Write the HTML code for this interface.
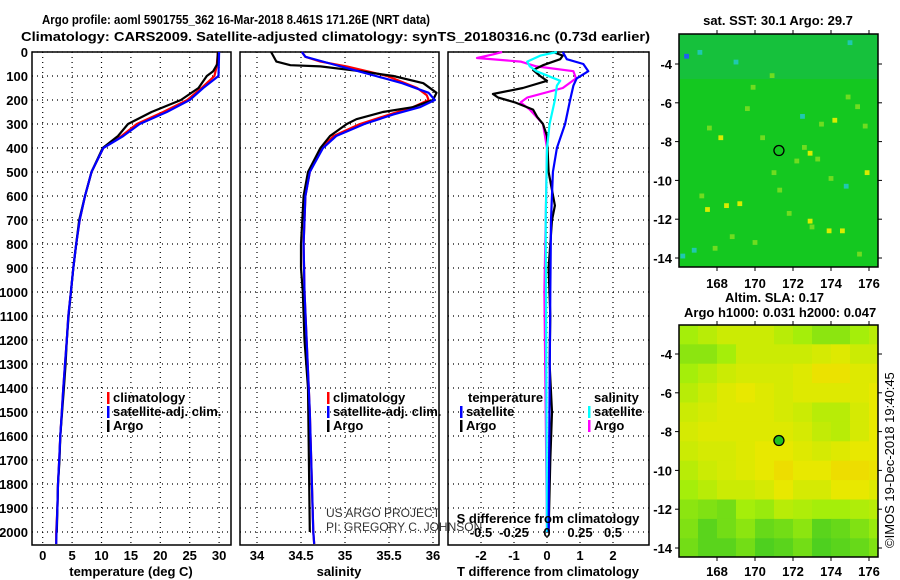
<!DOCTYPE html>
<html><head><meta charset="utf-8"><style>
html,body{margin:0;padding:0;background:#fff;}
svg{display:block;font-family:"Liberation Sans",sans-serif;}
.b{font-weight:bold;font-size:13px;}
</style></head><body>
<svg id="chart" width="900" height="580" viewBox="0 0 900 580" xmlns="http://www.w3.org/2000/svg">
<text x="42" y="24" class="b" font-size="15" textLength="388" lengthAdjust="spacingAndGlyphs">Argo profile: aoml 5901755_362 16-Mar-2018 8.461S 171.26E (NRT data)</text>
<text x="21" y="41" class="b" font-size="15" textLength="629" lengthAdjust="spacingAndGlyphs">Climatology: CARS2009. Satellite-adjusted climatology: synTS_20180316.nc (0.73d earlier)</text>
<g id="g"></g>
</svg>
<script>
// ---------- data ----------
const pTicks=[0,100,200,300,400,500,600,700,800,900,1000,1100,1200,1300,1400,1500,1600,1700,1800,1900,2000];
const tTicks=[0,5,10,15,20,25,30];
const sTicks=[34,34.5,35,35.5,36];
const dTicks=[-2,-1,0,1,2];
const sdTickLabels=["-0.5","-0.25","0","0.25","0.5"];
const sdTickVals=[-0.5,-0.25,0,0.25,0.5];

const tClimP=[0,60,100,150,200,250,300,350,400,500,600,700,800,900,1000,1100,1200,1300,1400,1500,1600,1700,1800,1900,2000,2050];
const tClimV=[29.8,29.6,29.2,27,24.6,20.5,16,13.4,10.3,8.3,7.2,6.3,5.7,5.2,4.8,4.35,4.1,3.8,3.5,3.25,3.0,2.8,2.6,2.5,2.3,2.3];
const tSatP=[0,100,150,200,250,300,350,400,500,600,700,800,900,1000,1100,1200,1300,1400,1500,1600,1700,1800,1900,2000,2050];
const tSatV=[30.0,29.9,27.3,25,21.1,16.5,13.7,10.3,8.3,7.2,6.3,5.7,5.2,4.8,4.35,4.1,3.8,3.5,3.25,3.0,2.8,2.6,2.5,2.35,2.3];
const tArgoP=[0,50,80,100,150,200,250,300,350,400,500,600,700,800,900,1000,1100,1200,1300,1400,1500,1600,1700,1800,1900,2000];
const tArgoV=[29.8,29.7,29.0,27.9,26.5,23.5,18.5,14.5,12.8,10.2,8.3,7.2,6.2,5.7,5.2,4.8,4.4,4.1,3.9,3.6,3.3,3.0,2.85,2.6,2.5,2.4];

const sClimP=[0,20,40,60,80,100,150,180,200,230,260,300,350,400,500,600,800,1000,1500,2000,2050];
const sClimV=[34.51,34.55,34.72,35.02,35.25,35.48,35.82,35.93,35.95,35.77,35.51,35.17,34.87,34.73,34.6,34.55,34.53,34.54,34.6,34.64,34.65];
const sSatP=[0,20,50,80,100,130,170,200,230,260,300,350,400,500,600,800,1000,1500,2000,2050];
const sSatV=[34.51,34.55,34.85,35.15,35.35,35.65,35.95,36.02,35.85,35.55,35.22,34.9,34.75,34.6,34.55,34.53,34.54,34.6,34.64,34.65];
const sArgoP=[0,40,55,60,80,100,130,170,200,230,250,280,300,350,400,500,600,800,900,1000,1200,1400,2000];
const sArgoV=[34.16,34.22,34.38,34.72,35.17,35.55,35.89,36.04,36.0,35.77,35.43,35.13,35.02,34.83,34.72,34.58,34.53,34.5,34.5,34.52,34.54,34.58,34.6];

const dtArgoP=[0,15,30,55,75,100,120,150,175,190,210,240,270,300,350,500,640,700,900,1100,1300,1500,1700,2000];
const dtArgoV=[0.18,0.48,0.4,-0.12,-0.42,-0.21,0,-0.73,-1.64,-1.48,-0.97,-0.42,-0.3,-0.12,0,0.05,0.24,0.15,0.05,0.1,0.08,0.15,0.1,0.05];
const dtSatP=[0,30,50,80,110,140,200,300,400,500,700,1000,2000];
const dtSatV=[0.48,0.6,1.1,1.25,0.9,0.8,0.7,0.55,0.3,0.18,0.12,0.1,0.05];
const dsSatP=[0,15,40,60,80,120,140,200,300,400,700,2000];
const dsSatV=[0.075,-0.05,-0.15,-0.13,-0.08,0.1,0.075,0.06,0.02,0,-0.01,0];
const dsArgoP=[0,10,25,40,60,80,110,150,190,210,240,270,300,400,700,1000,2000];
const dsArgoV=[-0.34,-0.41,-0.53,-0.2,-0.08,0.2,0.22,0.12,-0.15,-0.2,-0.13,-0.08,-0.03,0,-0.01,-0.02,0];

const lonTicks=[168,170,172,174,176];
const latTicks=[-4,-6,-8,-10,-12,-14];
const argoLon=171.26, argoLat=-8.46;
const slaLat=[-3,-4,-5,-6,-7,-8,-9,-10,-11,-12,-13,-14];
const slaLon=[166.5,167.5,168.5,169.5,170.5,171.5,172.5,173.5,174.5,175.5,176.5];
const slaVal=[
[.5,.6,.7,.7,.7,.6,.5,.4,.4,.5,.6],
[.4,.4,.5,.7,.7,.7,.7,.75,.8,.7,.7],
[.5,.6,.7,.75,.75,.75,.8,.9,.9,.8,.8],
[.6,.7,.8,.85,.8,.75,.8,.8,.8,.8,.85],
[.7,.75,.8,.8,.8,.75,.7,.6,.6,.75,.85],
[.75,.8,.8,.8,.8,.8,.75,.65,.6,.75,.85],
[.7,.75,.75,.8,.85,.85,.8,.75,.8,.85,.85],
[.6,.7,.75,.8,.85,.95,.85,.85,.95,.95,.9],
[.5,.6,.7,.7,.75,.85,.75,.75,.85,.85,.8],
[.4,.35,.3,.5,.45,.6,.55,.5,.5,.55,.6],
[.35,.2,.3,.4,.25,.3,.4,.2,.25,.35,.45],
[.3,.2,.2,.3,.15,.2,.3,.15,.2,.25,.35]];
const sstLon=[172.6,172.9,173.3,174.2,175.4,175.9,171.3,169.2,168.5,167.5,167.9,172.9,174.6,175.5,169.0,170.4,173.5,166.2,166.4,167.1,175.0,174.8,172.2,170.9,168.2,173.9,171.8,169.6,166.8,174.9,167.2,172.5,173.0,170.0,168.8,171.0,174.0,175.8,169.9,167.6];
const sstLat=[-8.3,-8.6,-8.9,-6.9,-6.2,-9.6,-10.5,-11.2,-11.3,-11.5,-13.5,-12.1,-12.6,-13.8,-3.9,-7.8,-7.1,-13.9,-3.6,-3.4,-2.9,-10.3,-9.0,-4.6,-7.8,-12.6,-11.7,-6.3,-13.6,-5.7,-10.8,-6.7,-12.4,-13.2,-12.9,-9.6,-9.9,-7.2,-5.2,-7.3];
const sstKind=[0,2,0,2,0,2,0,2,2,2,0,2,2,0,1,0,0,1,3,1,1,1,0,0,2,2,0,0,1,0,0,1,0,0,0,0,0,0,0,0];

// ---------- helpers ----------
const NS="http://www.w3.org/2000/svg";
const G=document.getElementById('g');
function mk(tag,attrs,parent){const e=document.createElementNS(NS,tag);for(const k in attrs)e.setAttribute(k,attrs[k]);(parent||G).appendChild(e);return e;}
const yP=p=>52+p*0.24;
const PB=545;
const xT=t=>42.7+t*5.88;
const xS=s=>257+(s-34)*88;
const xD=d=>547+d*33;
const xSD=s=>547+s*132;

function panel(name,x0,x1,xs,ticks,fn,lbls){
  const g=mk('g',{});
  
  
  ticks.forEach(t=>{const l=mk('line',{x1:fn(t),x2:fn(t),y1:52,y2:PB,stroke:'#000','stroke-width':1.2,'stroke-dasharray':'1,4'},g);
    });
  pTicks.forEach(p=>{const l=mk('line',{x1:x0,x2:x1,y1:yP(p),y2:yP(p),stroke:'#000','stroke-width':1.2,'stroke-dasharray':'1,4'},g);
    });
  const r=mk('rect',{x:x0,y:52,width:x1-x0,height:PB-52,fill:'none',stroke:'#000','stroke-width':1.5},g);
  
  ticks.forEach((t,i)=>{const tx=mk('text',{x:fn(t),y:560,'text-anchor':'middle',class:'b'},g);tx.textContent=lbls?lbls[i]:String(t);
    });
  return g;
}
function line(g,name,P,V,fx,color){
  const pts=P.map((p,i)=>fx(V[i]).toFixed(1)+','+yP(p).toFixed(1)).join(' ');
  const l=mk('polyline',{points:pts,fill:'none',stroke:color,'stroke-width':2.2,'stroke-linejoin':'round'},g);
  
}
function txt(s,x,y,attrs,name,g){const t=mk('text',Object.assign({x:x,y:y},attrs||{}),g);t.textContent=s;return t;}
function legend(g,x,y,color,label,name){
  const r=mk('rect',{x:x,y:y-10,width:2.5,height:12,fill:color},g);
  
  txt(label,x+6,y,{class:'b'},name,g);
}

pTicks.forEach(p=>{txt(String(p),28,yP(p)+5,{class:'b','text-anchor':'end'},'y-tick-label');});

const g1=panel('temperature-panel',32,231,null,tTicks,xT);
line(g1,'temperature-climatology-line',tClimP,tClimV,xT,'#f00');
line(g1,'temperature-argo-line',tArgoP,tArgoV,xT,'#000');
line(g1,'temperature-satellite-line',tSatP,tSatV,xT,'#00f');
txt('temperature (deg C)',131,576,{class:'b','text-anchor':'middle'},'temperature-axis-title',g1);
legend(g1,107,402,'#f00','climatology','legend-climatology');
legend(g1,107,416,'#00f','satellite-adj. clim.','legend-satellite');
legend(g1,107,430,'#000','Argo','legend-argo');

const g2=panel('salinity-panel',240,439,null,sTicks,xS);
line(g2,'salinity-climatology-line',sClimP,sClimV,xS,'#f00');
line(g2,'salinity-argo-line',sArgoP,sArgoV,xS,'#000');
line(g2,'salinity-satellite-line',sSatP,sSatV,xS,'#00f');
txt('salinity',339,576,{class:'b','text-anchor':'middle'},'salinity-axis-title',g2);
legend(g2,327,402,'#f00','climatology','legend-climatology');
legend(g2,327,416,'#00f','satellite-adj. clim.','legend-satellite');
legend(g2,327,430,'#000','Argo','legend-argo');
txt('US ARGO PROJECT',326,517,{'font-size':'12','fill':'#333'},'credit-project',g2);
txt('PI: GREGORY C. JOHNSON',326,531,{'font-size':'12','fill':'#333'},'credit-pi',g2);

const g3=panel('difference-panel',448,649,null,dTicks,xD);
line(g3,'s-diff-argo-line',dsArgoP,dsArgoV,xSD,'#f0f');
line(g3,'t-diff-argo-line',dtArgoP,dtArgoV,xD,'#000');
line(g3,'s-diff-satellite-line',dsSatP,dsSatV,xSD,'#0ff');
line(g3,'t-diff-satellite-line',dtSatP,dtSatV,xD,'#00f');
txt('T difference from climatology',548,576,{class:'b','text-anchor':'middle'},'t-diff-axis-title',g3);
txt('S difference from climatology',548,523,{class:'b','text-anchor':'middle'},'s-diff-axis-title',g3);
sdTickVals.forEach((v,i)=>txt(sdTickLabels[i],xSD(v),537,{class:'b','text-anchor':'middle'},'s-diff-tick-label',g3));
txt('temperature',468,402,{class:'b'},'legend-temperature-heading',g3);
legend(g3,460,416,'#00f','satellite','legend-t-satellite');
legend(g3,460,430,'#000','Argo','legend-t-argo');
txt('salinity',594,402,{class:'b'},'legend-salinity-heading',g3);
legend(g3,588,416,'#0ff','satellite','legend-s-satellite');
legend(g3,588,430,'#f0f','Argo','legend-s-argo');

const mX=lon=>679+(lon-166)*19;
function mapFrame(name){
  const g=mk('g',{});
  return g;
}
function mapAxes(g,top,bot,latY,labY){
  const r=mk('rect',{x:679,y:top,width:199,height:bot-top,fill:'none',stroke:'#000','stroke-width':1.5},g);
  
  lonTicks.forEach(l=>{mk('line',{x1:mX(l),x2:mX(l),y1:top,y2:top-4,stroke:'#000'},g);mk('line',{x1:mX(l),x2:mX(l),y1:bot,y2:bot+4,stroke:'#000'},g);
    txt(String(l),mX(l),labY,{class:'b','text-anchor':'middle'},'lon-tick-label',g);});
  latTicks.forEach(l=>{mk('line',{x1:878,x2:882,y1:latY(l),y2:latY(l),stroke:'#000'},g);mk('line',{x1:675,x2:679,y1:latY(l),y2:latY(l),stroke:'#000'},g);
    txt(String(l),672,latY(l)+5,{class:'b','text-anchor':'end'},'lat-tick-label',g);});
}
const y1L=lat=>64+(-4-lat)*19.4;
const gm1=mapFrame('sst-map');
const cp2=mk('clipPath',{id:'c2'});mk('rect',{x:679,y:325,width:199,height:232},cp2);
const bg=mk('rect',{x:679,y:34,width:199,height:233,fill:'#14c820'},gm1);
mk('rect',{x:679,y:34,width:199,height:45,fill:'#18bc50',opacity:0.6},gm1);
const kc=['#70dc20','#20c8b0','#d8ec00','#2060f0'];
sstLon.forEach((lo,i)=>{const c=mk('rect',{x:mX(lo)-2.4,y:y1L(sstLat[i])-2.4,width:4.8,height:4.8,fill:kc[sstKind[i]]},gm1);
  });
const a1=mk('circle',{cx:mX(argoLon),cy:y1L(argoLat),r:5,fill:'none',stroke:'#000','stroke-width':1.3},gm1);

mapAxes(gm1,34,267,y1L,288);
txt('sat. SST: 30.1 Argo: 29.7',778,25,{class:'b','text-anchor':'middle'},'sst-map-title',gm1);

const y2L=lat=>354+(-4-lat)*19.4;
const gm2=mapFrame('sla-map');
const cg=mk('g',{'clip-path':'url(#c2)'},gm2);
function slaColor(v){
  const stops=[[0,[40,195,40]],[0.5,[165,238,10]],[0.85,[232,232,0]],[1,[240,215,0]]];
  for(let i=1;i<stops.length;i++){if(v<=stops[i][0]){const a=stops[i-1],b=stops[i],f=(v-a[0])/(b[0]-a[0]);
    return 'rgb('+a[1].map((c,k)=>Math.round(c+(b[1][k]-c)*f)).join(',')+')';}}
  return 'rgb(240,215,0)';
}
slaLat.forEach((la,r)=>slaLon.forEach((lo,c)=>{
  const cell=mk('rect',{x:mX(lo-0.5),y:y2L(la+0.5),width:19.5,height:20,fill:slaColor(slaVal[r][c])},cg);
  }));
const a2=mk('circle',{cx:mX(argoLon),cy:y2L(argoLat),r:5,fill:'#20c020',stroke:'#000','stroke-width':1.3},gm2);

mapAxes(gm2,325,557,y2L,576);
txt('Altim. SLA: 0.17',725,302,{class:'b'},'sla-map-title',gm2);
txt('Argo h1000: 0.031 h2000: 0.047',684,317,{class:'b'},'sla-map-subtitle',gm2);
txt('\u00A9IMOS 19-Dec-2018 19:40:45',0,0,{'font-size':'13',transform:'translate(894,548) rotate(-90)'},'timestamp-credit');
</script>
</body></html>
